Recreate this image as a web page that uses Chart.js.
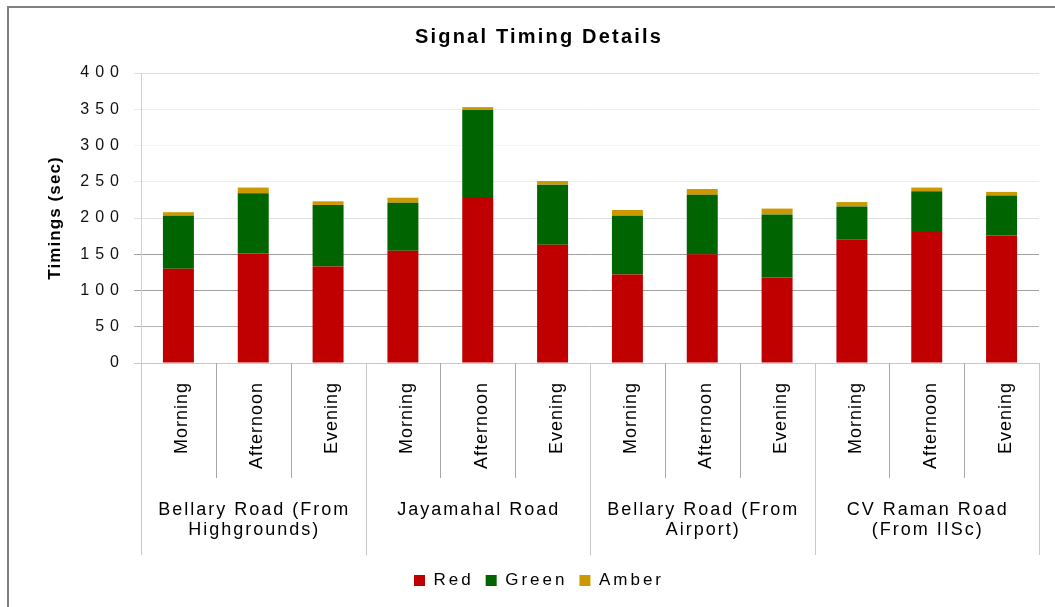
<!DOCTYPE html>
<html lang="en">
<head>
    <meta charset="UTF-8">
    <title>Signal Timing Details</title>
    <script src="https://cdn.jsdelivr.net/npm/chart.js"></script>
    <style>
        body { margin: 0; background: #fff; }
        .wrap { position: relative; width: 1055px; height: 607px; overflow: hidden; }
        .frame {
            position: absolute; left: 7px; top: 6px; width: 1100px; height: 700px;
            border-top: 2px solid #808080; border-left: 2px solid #808080; pointer-events: none;
        }
    </style>
</head>
<body>
    <div class="wrap">
        <!-- the source chart runs past the right edge of the picture, so the canvas does too -->
        <canvas id="signalChart" width="1068" height="607"></canvas>
        <div class="frame"></div>
    </div>

    <script>
        // Chart data
        const periods = ['Morning', 'Afternoon', 'Evening'];
        const roads = [
            ['Bellary Road (From', 'Highgrounds)'],
            ['Jayamahal Road'],
            ['Bellary Road (From', 'Airport)'],
            ['CV Raman Road', '(From IISc)']
        ];
        const redTimes   = [130, 151, 133, 155, 229, 163, 122, 150, 118, 170, 182, 176];
        const greenTimes = [73, 83, 85, 66, 120, 83, 81, 82, 87, 46, 55, 55];
        const amberTimes = [5, 8, 5, 7, 4, 5, 8, 8, 8, 6, 5, 5];
        const yTicks = [0, 50, 100, 150, 200, 250, 300, 350, 400];

        const labels = roads.flatMap(() => periods);
        const FONT = '"Liberation Sans", Arial, sans-serif';

        // grid line shades as they appear in the picture
        function gridShade(v) {
            if (v === 0) return '#c8c8c8';
            if (v <= 50) return '#b4b4b4';
            if (v <= 150) return '#a0a0a0';
            if (v === 300) return '#f4f4f4';
            if (v === 250 || v === 350) return '#ececec';
            return '#e0e0e0';
        }

        // the source chart has widely spaced text, canvas letterSpacing mimics it
        function withSpacing(obj, method, px) {
            if (!obj || !obj[method] || obj[method].spaced) return;
            const orig = obj[method];
            const fn = function () {
                const ctx = this.ctx;
                const prev = ctx.letterSpacing;
                ctx.letterSpacing = px;
                const r = orig.apply(this, arguments);
                ctx.letterSpacing = prev;
                return r;
            };
            fn.spaced = true;
            obj[method] = fn;
        }

        const spacingPlugin = {
            id: 'spacing',
            beforeLayout(chart) {
                withSpacing(chart.titleBlock, 'draw', '2.2px');
                withSpacing(chart.legend, 'fit', '3px');
                withSpacing(chart.legend, 'draw', '3px');
                withSpacing(chart.scales.x, 'drawLabels', '1px');
                withSpacing(chart.scales.y, 'drawLabels', '6px');
                withSpacing(chart.scales.y, 'drawTitle', '1.1px');
            }
        };

        // second level of the category axis: separators and road names
        const groupPlugin = {
            id: 'groups',
            afterDraw(chart) {
                const { ctx, chartArea, scales: { x } } = chart;
                const step = x.getPixelForValue(1) - x.getPixelForValue(0);
                const edge = i => x.getPixelForValue(i) - step / 2;
                const base = chartArea.bottom;

                ctx.save();
                ctx.lineWidth = 1;
                for (let i = 0; i <= labels.length; i++) {
                    const isGroup = i % periods.length === 0;
                    const px = Math.round(edge(i)) + 0.5;
                    ctx.strokeStyle = isGroup ? '#c8c8c8' : '#a8a8a8';
                    ctx.beginPath();
                    ctx.moveTo(px, base);
                    ctx.lineTo(px, base + (isGroup ? 192 : 115));
                    ctx.stroke();
                }

                ctx.font = '18px ' + FONT;
                ctx.letterSpacing = '2px';
                ctx.fillStyle = '#000';
                ctx.textAlign = 'center';
                ctx.textBaseline = 'middle';
                roads.forEach((lines, g) => {
                    const cx = (edge(g * periods.length) + edge((g + 1) * periods.length)) / 2;
                    lines.forEach((t, k) => ctx.fillText(t, cx + 1, base + 147 + k * 20));
                });
                ctx.restore();
            }
        };

        const ctx = document.getElementById('signalChart').getContext('2d');
        const chart = new Chart(ctx, {
            type: 'bar',
            data: {
                labels: labels,
                datasets: [
                    { label: 'Red', data: redTimes, backgroundColor: '#c00000' },
                    { label: 'Green', data: greenTimes, backgroundColor: '#006400' },
                    { label: 'Amber', data: amberTimes, backgroundColor: '#cc9900' }
                ]
            },
            options: {
                responsive: false,
                animation: false,
                layout: { padding: { left: 10, top: 8, right: 0, bottom: 8 } },
                datasets: {
                    bar: { barPercentage: 0.414, categoryPercentage: 1, borderWidth: 0 }
                },
                plugins: {
                    title: {
                        display: true,
                        text: 'Signal Timing Details',
                        color: '#000',
                        font: { family: FONT, size: 20, weight: 'bold' },
                        padding: { top: 17, bottom: 24 }
                    },
                    legend: {
                        position: 'bottom',
                        labels: {
                            color: '#000',
                            font: { family: FONT, size: 17 },
                            boxWidth: 11,
                            boxHeight: 11,
                            padding: 12
                        }
                    },
                    tooltip: { enabled: false }
                },
                scales: {
                    x: {
                        stacked: true,
                        afterFit(scale) { scale.height = 197; },
                        grid: { display: false, drawTicks: false },
                        border: { display: true, color: '#c8c8c8' },
                        ticks: {
                            autoSkip: false,
                            minRotation: 90,
                            maxRotation: 90,
                            padding: 19,
                            labelOffset: 4,
                            color: '#000',
                            font: { family: FONT, size: 18 }
                        }
                    },
                    y: {
                        stacked: true,
                        min: yTicks[0],
                        max: yTicks[yTicks.length - 1],
                        afterFit(scale) { scale.width = 131; },
                        afterBuildTicks(scale) { scale.ticks = yTicks.map(v => ({ value: v })); },
                        grid: {
                            color: c => gridShade(c.tick.value),
                            tickLength: 7
                        },
                        border: { display: true, color: '#d0d0d0' },
                        ticks: {
                            padding: 9,
                            color: '#111',
                            font: { family: FONT, size: 16 }
                        },
                        title: {
                            display: true,
                            text: 'Timings (sec)',
                            color: '#000',
                            font: { family: FONT, size: 17, weight: 'bold' },
                            padding: { top: 34.8, bottom: 0 }
                        }
                    },
                    // empty strip on the right so the plot ends where the picture's does
                    yRight: {
                        position: 'right',
                        afterFit(scale) { scale.width = 29; },
                        grid: { display: false, drawOnChartArea: false },
                        border: { display: false },
                        ticks: { display: false }
                    }
                }
            },
            plugins: [spacingPlugin, groupPlugin]
        });
    </script>
</body>
</html>
